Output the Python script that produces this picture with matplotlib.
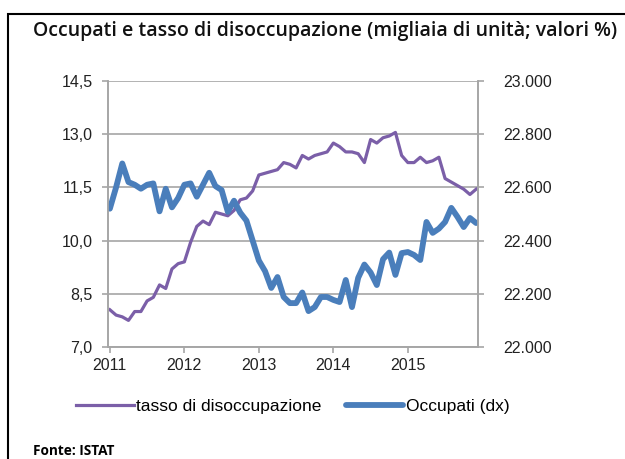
import matplotlib.pyplot as plt
from matplotlib.ticker import FuncFormatter
from matplotlib.patches import Rectangle

# mesi da gen 2011 a dic 2015
tasso = [8.05, 7.9, 7.85, 7.75, 8.0, 8.0, 8.3, 8.4, 8.75, 8.65, 9.2, 9.35,
         9.4, 9.95, 10.4, 10.55, 10.45, 10.8, 10.75, 10.7, 10.85, 11.15, 11.2, 11.4,
         11.85, 11.9, 11.95, 12.0, 12.2, 12.15, 12.05, 12.4, 12.3, 12.4, 12.45, 12.5,
         12.75, 12.65, 12.5, 12.5, 12.45, 12.2, 12.85, 12.75, 12.9, 12.95, 13.05, 12.4,
         12.2, 12.2, 12.35, 12.2, 12.25, 12.35, 11.75, 11.65, 11.55, 11.45, 11.3, 11.45]
occupati = [22520, 22600, 22690, 22620, 22610, 22595, 22610, 22615, 22510, 22595, 22525, 22560,
            22610, 22615, 22565, 22610, 22655, 22605, 22590, 22508, 22550, 22505, 22475, 22400,
            22325, 22285, 22222, 22263, 22188, 22165, 22165, 22205, 22135, 22150, 22188, 22188,
            22177, 22169, 22252, 22150, 22260, 22310, 22280, 22233, 22330, 22355, 22271, 22353,
            22357, 22346, 22327, 22470, 22429, 22445, 22470, 22523, 22489, 22451, 22485, 22466]
anni = ['2011', '2012', '2013', '2014', '2015']

viola = '#7b5fa8'
blu = '#4a7ebb'
grigio = '#a6a6a6'

plt.rcParams['font.family'] = 'Liberation Sans'

fig = plt.figure(figsize=(6.25, 4.59), dpi=100)
fig.patches.append(Rectangle((8 / 625, -0.1), 1.2, 1 - 14 / 459 + 0.1, transform=fig.transFigure,
                             fill=False, edgecolor='black', linewidth=1.5))

ax = fig.add_axes([108 / 625, 1 - 347 / 459, 370 / 625, 266 / 459])
ax2 = ax.twinx()

x = list(range(len(tasso)))
l1, = ax.plot(x, tasso, color=viola, linewidth=2.3, label='tasso di disoccupazione')
l2, = ax2.plot(x, occupati, color=blu, linewidth=4.2, label='Occupati (dx)', solid_capstyle='round')

ax.set_ylim(7.0, 14.5)
ax.set_yticks([7.0, 8.5, 10.0, 11.5, 13.0, 14.5])
ax.yaxis.set_major_formatter(FuncFormatter(lambda v, p: f'{v:.1f}'.replace('.', ',')))
ax2.set_ylim(22000, 23000)
ax2.set_yticks([22000, 22200, 22400, 22600, 22800, 23000])
ax2.yaxis.set_major_formatter(FuncFormatter(lambda v, p: f'{v / 1000:.3f}'))

ax.set_xlim(-0.3, 59.3)
ax.set_xticks([0, 12, 24, 36, 48])
ax.set_xticklabels(anni)

ax.grid(axis='y', color=grigio, linewidth=1.2)
ax.set_axisbelow(True)
for a in (ax, ax2):
    a.spines['top'].set_visible(False)
    for s in ('left', 'right', 'bottom'):
        a.spines[s].set_color(grigio)
        a.spines[s].set_linewidth(1.2)
    a.tick_params(colors=grigio, labelcolor='#222222', labelsize=11.5, length=4, width=1.2)
ax.tick_params(axis='y', pad=7)
ax2.tick_params(axis='y', pad=14)
ax.tick_params(axis='x', pad=4)

fig.text(33 / 625, 1 - 31 / 459, 'Occupati e tasso di disoccupazione (migliaia di unità; valori %)',
         fontsize=14, fontweight='semibold', family='Open Sans', va='center', color='#111111')
fig.legend(handles=[l1, l2], loc='center', bbox_to_anchor=(293 / 625, 1 - 406 / 459), ncol=2,
           frameon=False, fontsize=12.5, handlelength=3.3, handletextpad=0.15, columnspacing=1.4)
fig.text(33 / 625, 1 - 451 / 459, 'Fonte: ISTAT', fontsize=9.8, fontweight='bold',
         family='Open Sans', va='center')

fig.savefig('out.png', dpi=100)
